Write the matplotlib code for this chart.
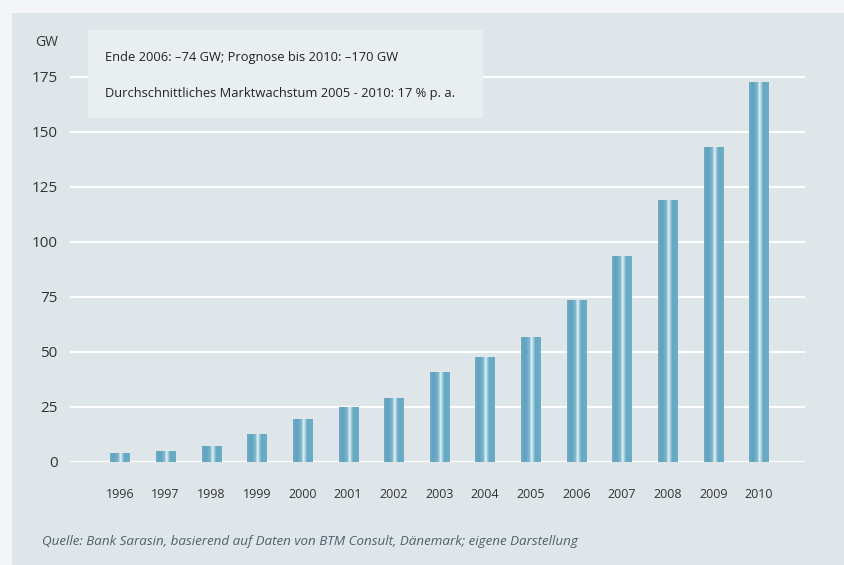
import numpy as np
import matplotlib
matplotlib.use("Agg")
import matplotlib.pyplot as plt
from matplotlib.colors import LinearSegmentedColormap
from matplotlib.patches import Rectangle

# installed wind capacity (GW)
years = ['1996', '1997', '1998', '1999', '2000', '2001', '2002', '2003',
         '2004', '2005', '2006', '2007', '2008', '2009', '2010']
capacity = [4, 5, 7, 12.5, 19.5, 25, 29, 40.5, 47.7, 56.5, 73.3, 93.2, 119, 143, 172.7]
yticks = [0, 25, 50, 75, 100, 125, 150, 175]

note1 = "Ende 2006: \u201374 GW; Prognose bis 2010: \u2013170 GW"
note2 = "Durchschnittliches Marktwachstum 2005 - 2010: 17 % p. a."
source = "Quelle: Bank Sarasin, basierend auf Daten von BTM Consult, D\u00e4nemark; eigene Darstellung"

plt.rcParams['font.family'] = ['Open Sans', 'DejaVu Sans']

panel = '#dfe6ea'
fig = plt.figure(figsize=(8.44, 5.65), dpi=100, facecolor='#f3f5f7')
# light grey panel behind the whole chart
fig.patches.append(Rectangle((12 / 844, 0), 1, 1 - 13 / 565, transform=fig.transFigure,
                             facecolor=panel, edgecolor='none', zorder=-10))

ax = fig.add_axes([70 / 844, 1 - 461.7 / 565, 735 / 844, (461.7 - 54.7) / 565])
ax.set_facecolor('none')

for t in yticks:
    ax.axhline(t, color='white', lw=1.5, zorder=1)

# cylinder look: blue edges with a pale stripe down the middle
bar_cmap = LinearSegmentedColormap.from_list('cyl', [
    (0.0, '#72abc4'), (0.2, '#5fa2bf'), (0.42, '#7db7cd'), (0.53, '#e8f2f6'),
    (0.62, '#a3cddc'), (0.72, '#65a8c3'), (1.0, '#6cadc7')])
grad = np.linspace(0, 1, 64).reshape(1, -1)
w = 0.42
for i, v in enumerate(capacity):
    ax.imshow(grad, cmap=bar_cmap, aspect='auto', extent=(i - w / 2, i + w / 2, 0, v),
              zorder=2, interpolation='bilinear')
ax.set_xlim(-1.095, 15.01)
ax.set_ylim(0, 185)

ax.set_yticks(yticks)
ax.set_yticklabels([str(t) for t in yticks], fontsize=11, color='#333333')
ax.set_xticks(range(len(years)))
ax.set_xticklabels(years, fontsize=9, color='#333333')
ax.tick_params(length=0)
ax.tick_params(axis='y', pad=9)
ax.tick_params(axis='x', pad=19)
for s in ax.spines.values():
    s.set_visible(False)

fig.text(35 / 844, 1 - 42 / 565, 'GW', fontsize=10, color='#333333', va='center')

# note box
fig.patches.append(Rectangle((88 / 844, 1 - 118 / 565), 395 / 844, 88 / 565,
                             transform=fig.transFigure, facecolor='#e9eef1',
                             edgecolor='none', zorder=3))
fig.text(105 / 844, 1 - 58 / 565, note1, fontsize=9.3, color='#222222', va='center', zorder=4)
fig.text(105 / 844, 1 - 93 / 565, note2, fontsize=9.3, color='#222222', va='center', zorder=4)

fig.text(42 / 844, 1 - 541 / 565, source, fontsize=9.6, style='italic', color='#4f5f6a',
         va='center')

fig.savefig('out.png', dpi=100, facecolor=fig.get_facecolor())
